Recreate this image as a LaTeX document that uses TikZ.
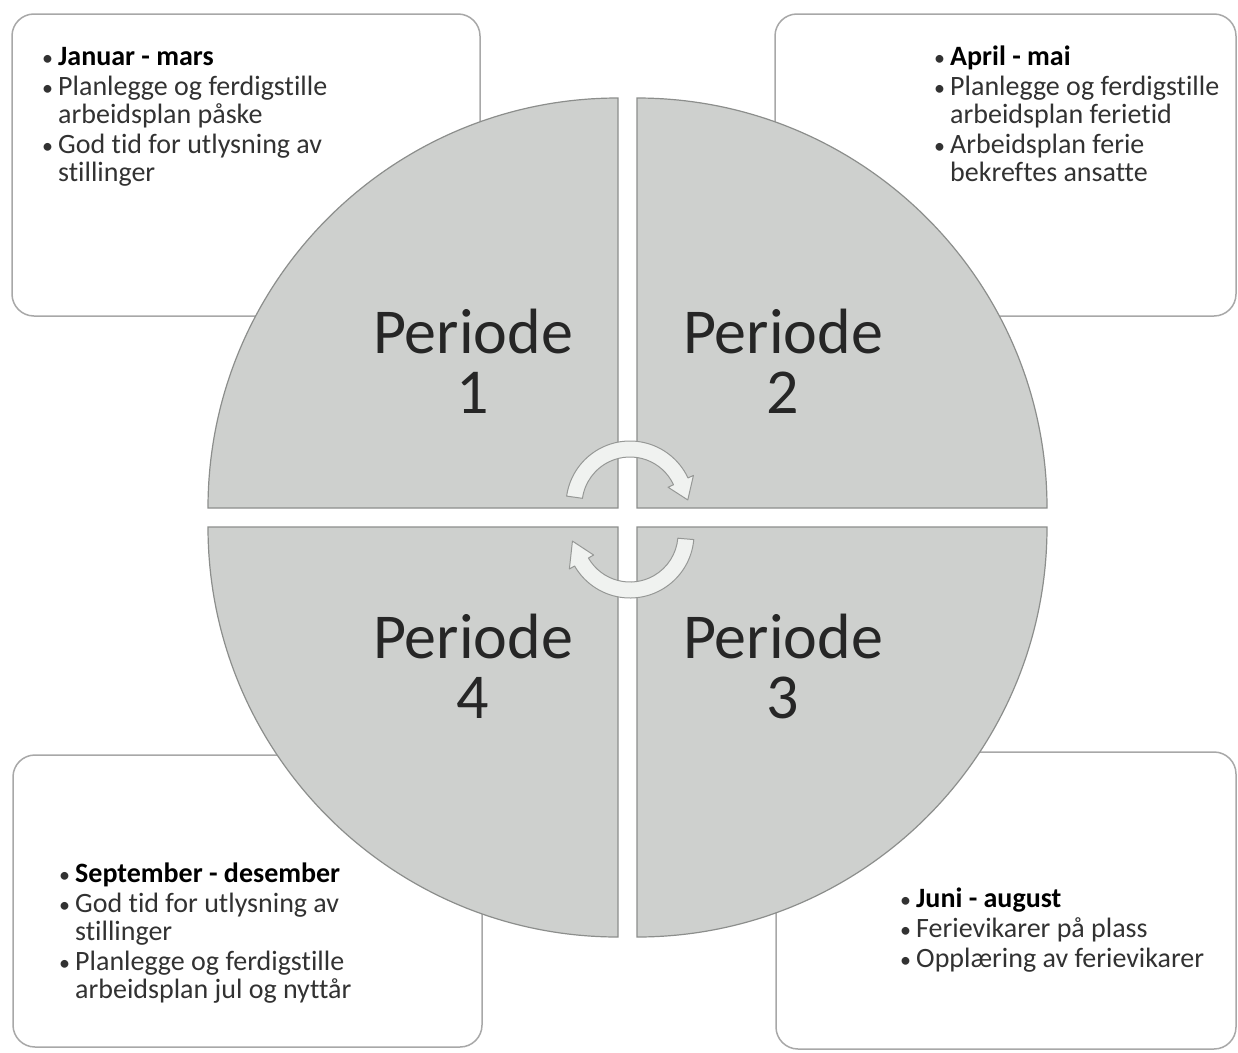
\documentclass[tikz,border=0pt]{standalone}
\usepackage{fontspec}
\setmainfont{Carlito}[Ligatures=NoCommon]
\usetikzlibrary{calc}
\definecolor{quad}{RGB}{206,208,206}
\definecolor{quadline}{RGB}{140,142,140}
\definecolor{boxline}{RGB}{168,168,168}
\definecolor{txt}{RGB}{50,50,50}
\definecolor{arrfill}{RGB}{240,242,240}
\definecolor{arrline}{RGB}{150,152,150}
\newcommand{\lbul}{\makebox[14pt][l]{\hspace{-2pt}\fontsize{22}{22}\selectfont\textbullet}}
\begin{document}
\begin{tikzpicture}[x=1pt,y=1pt,
  infobox/.style={draw=boxline, line width=1.5pt, fill=white, rounded corners=22pt, inner sep=0pt},
  quadrant/.style={draw=quadline, line width=1.2pt, fill=quad},
  pertext/.style={inner sep=0pt, anchor=base, font=\fontsize{64}{64}\selectfont, text=black!85},
  listtext/.style={inner sep=0pt, anchor=base west, font=\fontsize{28}{28}\selectfont, text=txt},
  cyclearrow/.style={draw=arrline, line width=1pt, fill=arrfill, line join=round}]
\useasboundingbox (0,0) rectangle (1238,-1052);

% boxes
\node[infobox, minimum width=468pt, minimum height=302pt] (b1) at (246,-165) {};
\node[infobox, minimum width=461pt, minimum height=302pt] (b2) at (1005.5,-165) {};
\node[infobox, minimum width=469pt, minimum height=292pt] (b4) at (247.5,-901) {};
\node[infobox, minimum width=460pt, minimum height=297pt] (b3) at (1006,-900.5) {};

% quadrants
\draw[quadrant] (618,-508) -- (208,-508) arc[start angle=180, end angle=90, radius=410pt] -- cycle;
\draw[quadrant] (637,-508) -- (637,-98) arc[start angle=90, end angle=0, radius=410pt] -- cycle;
\draw[quadrant] (618,-527) -- (618,-937) arc[start angle=270, end angle=180, radius=410pt] -- cycle;
\draw[quadrant] (637,-527) -- (1047,-527) arc[start angle=0, end angle=-90, radius=410pt] -- cycle;

% period labels
\node[pertext] (p1a) at (473,-353) {Periode};
\node[pertext] (p1b) at (473,-413) {1};
\node[pertext] (p2a) at (783,-353) {Periode};
\node[pertext] (p2b) at (783,-413) {2};
\node[pertext] (p4a) at (473,-658) {Periode};
\node[pertext] (p4b) at (473,-718) {4};
\node[pertext] (p3a) at (783,-658) {Periode};
\node[pertext] (p3b) at (783,-718) {3};

% cycle arrows
\coordinate (c1) at (630,-505);
\coordinate (c2) at (630,-534);
\draw[cyclearrow] ($(c1)+(172:64pt)$) arc[start angle=172, end angle=25, radius=64pt]
  -- ($(c1)+(25:70pt)$) -- ($(c1)+(5:58pt)$) -- ($(c1)+(25:42pt)$) -- ($(c1)+(25:48pt)$)
  arc[start angle=25, end angle=172, radius=48pt] -- cycle;
\draw[cyclearrow] ($(c2)+(-5:64pt)$) arc[start angle=-5, end angle=-150, radius=64pt]
  -- ($(c2)+(-150:70pt)$) -- ($(c2)+(-173:58pt)$) -- ($(c2)+(-150:42pt)$) -- ($(c2)+(-150:48pt)$)
  arc[start angle=-150, end angle=-5, radius=48pt] -- cycle;

% list texts
\node[listtext] (l1) at (44,-65) {\begin{tabular}[t]{@{}l@{}l@{}}
\lbul & \textbf{\color{black}Januar - mars}\\[2pt]
\lbul & Planlegge og ferdigstille\\
 & arbeidsplan påske\\[2pt]
\lbul & God tid for utlysning av\\
 & stillinger
\end{tabular}};
\node[listtext] (l2) at (936,-65) {\begin{tabular}[t]{@{}l@{}l@{}}
\lbul & \textbf{\color{black}April - mai}\\[2pt]
\lbul & Planlegge og ferdigstille\\
 & arbeidsplan ferietid\\[2pt]
\lbul & Arbeidsplan ferie\\
 & bekreftes ansatte
\end{tabular}};
\node[listtext] (l4) at (61,-882) {\begin{tabular}[t]{@{}l@{}l@{}}
\lbul & \textbf{\color{black}September - desember}\\[2pt]
\lbul & God tid for utlysning av\\
 & stillinger\\[2pt]
\lbul & Planlegge og ferdigstille\\
 & arbeidsplan jul og nyttår
\end{tabular}};
\node[listtext] (l3) at (902,-907) {\begin{tabular}[t]{@{}l@{}l@{}}
\lbul & \textbf{\color{black}Juni - august}\\[2pt]
\lbul & Ferievikarer på plass\\[2pt]
\lbul & Opplæring av ferievikarer
\end{tabular}};
\end{tikzpicture}
\end{document}
